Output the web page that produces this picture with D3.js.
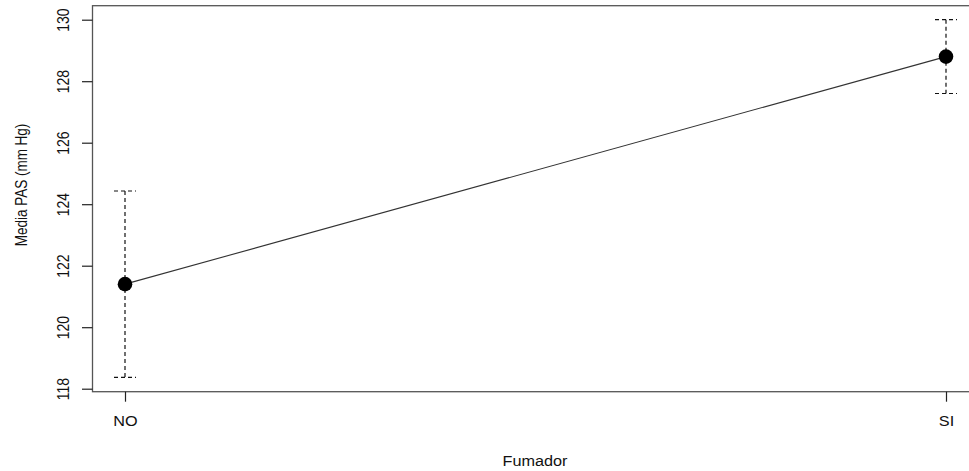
<!DOCTYPE html>
<html>
<head>
<meta charset="utf-8">
<script src="https://cdn.jsdelivr.net/npm/d3@7"></script>
<style>
  body { margin: 0; background: #fff; }
  svg { display: block; font-family: "Liberation Sans", Arial, sans-serif; }
</style>
</head>
<body>
<svg id="chart" width="969" height="471"></svg>
<script>
// values
var categories = ['NO', 'SI'];
var means = [121.4, 128.8];
var upper = [124.43, 130.0];
var lower = [118.37, 127.6];
var yTicks = [118, 120, 122, 124, 126, 128, 130];
var xTitle = 'Fumador';
var yTitle = 'Media PAS (mm Hg)';

var box = { left: 92.5, top: 5.7, right: 978, bottom: 391.7 };
var fs = 14.5, sx = 1.12;   // text looks stretched sideways in the reference

var svg = d3.select('#chart');

var x = d3.scalePoint().domain(categories).range([125, 946]);
var y = d3.scaleLinear().domain([118, 130]).range([388.7, 19.7]);

var pts = categories.map(function(c, i) {
  return { cat: c, mean: means[i], hi: upper[i], lo: lower[i] };
});

// box
svg.append('rect')
   .attr('x', box.left).attr('y', box.top)
   .attr('width', box.right - box.left).attr('height', box.bottom - box.top)
   .attr('fill', 'none').attr('stroke', '#555').attr('stroke-width', 1.3);

// y axis
var yAxis = svg.append('g')
               .attr('transform', `translate(${box.left},0)`)
               .call(d3.axisLeft(y).tickValues(yTicks).tickSize(10.5).tickFormat(d3.format('d')));
yAxis.select('.domain').remove();
yAxis.selectAll('.tick line').attr('stroke', '#222').attr('stroke-width', 1.2);
yAxis.selectAll('.tick text')
     .attr('x', null).attr('dy', null)
     .attr('font-size', 14).attr('fill', '#111')
     .attr('text-anchor', 'middle')
     .attr('transform', `translate(${69 - box.left},0) scale(1.15,1) rotate(-90)`);

// x axis
var xAxis = svg.append('g')
               .attr('transform', `translate(0,${box.bottom})`)
               .call(d3.axisBottom(x).tickSize(10));
xAxis.select('.domain').remove();
xAxis.selectAll('.tick line').attr('stroke', '#222').attr('stroke-width', 1.2);
xAxis.selectAll('.tick text')
     .attr('y', null).attr('dy', null)
     .attr('font-size', fs).attr('fill', '#111')
     .attr('text-anchor', 'middle')
     .attr('transform', `translate(0,${426 - box.bottom}) scale(${sx},1)`);

// titles
svg.append('text')
   .attr('transform', `translate(535,465.7) scale(${sx},1)`)
   .attr('text-anchor', 'middle').attr('font-size', fs).attr('fill', '#111')
   .text(xTitle);
svg.append('text')
   .attr('transform', `translate(27,185) scale(1.2,1) rotate(-90)`)
   .attr('text-anchor', 'middle').attr('font-size', 13.5).attr('fill', '#111')
   .text(yTitle);

// error bars
var eb = svg.append('g').attr('stroke', '#111').attr('stroke-width', 1.2)
            .attr('stroke-dasharray', '4,3').attr('fill', 'none');
eb.selectAll('line.v').data(pts).enter().append('line')
  .attr('x1', d => x(d.cat)).attr('x2', d => x(d.cat))
  .attr('y1', d => y(d.hi)).attr('y2', d => y(d.lo));
eb.selectAll('line.hi').data(pts).enter().append('line')
  .attr('x1', d => x(d.cat) - 11).attr('x2', d => x(d.cat) + 11)
  .attr('y1', d => y(d.hi)).attr('y2', d => y(d.hi));
eb.selectAll('line.lo').data(pts).enter().append('line')
  .attr('x1', d => x(d.cat) - 11).attr('x2', d => x(d.cat) + 11)
  .attr('y1', d => y(d.lo)).attr('y2', d => y(d.lo));

// mean line
svg.append('path').datum(pts)
   .attr('fill', 'none').attr('stroke', '#333').attr('stroke-width', 1.1)
   .attr('d', d3.line().x(d => x(d.cat)).y(d => y(d.mean)));

svg.selectAll('circle').data(pts).enter().append('circle')
   .attr('cx', d => x(d.cat)).attr('cy', d => y(d.mean))
   .attr('r', 7.3).attr('fill', '#000');
</script>
</body>
</html>
